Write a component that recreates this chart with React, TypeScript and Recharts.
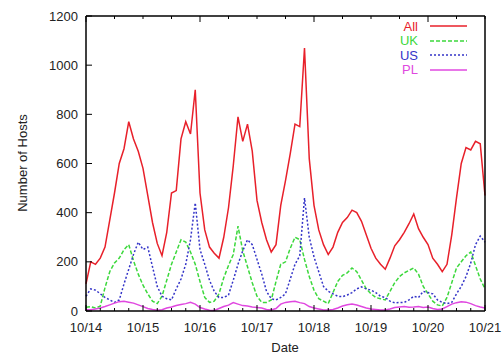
import React from "react";
import { LineChart, Line, XAxis, YAxis } from "recharts";

// two-hour samples, 10/14 00:00 -> 10/21 00:00
const HOURS = Array.from({ length: 85 }, (_, i) => i * 2);
const DATES = ["10/14", "10/15", "10/16", "10/17", "10/18", "10/19", "10/20", "10/21"];
const Y_TICKS = [0, 200, 400, 600, 800, 1000, 1200];

const ALL = [
  110, 200, 190, 215, 260, 370, 480, 600, 660, 770, 700, 650, 580,
  470, 360, 275, 225, 320, 480, 490, 700, 770, 720, 900, 480,
  330, 260, 235, 215, 300, 420, 590, 790, 690, 760, 650, 450,
  360, 290, 240, 270, 430, 530, 640, 760, 750, 1070, 620, 430,
  330, 270, 230, 260, 320, 360, 380, 410, 400, 365, 310, 255,
  215, 190, 170, 215, 265, 290, 320, 355, 395, 335, 300, 270,
  215, 190, 160, 190, 310, 460, 600, 665, 655, 690, 680, 470,
];
const UK = [
  15, 18, 12, 20, 95, 160, 195, 215, 250, 270, 205, 150, 105,
  70, 40, 30, 60, 125, 190, 240, 290, 280, 240, 190, 120,
  55, 35, 40, 70, 135, 185, 230, 345, 245, 180, 115, 60,
  35, 35, 45, 120, 190, 200, 255, 300, 290, 210, 140, 85,
  50, 40, 30, 75, 120, 145, 155, 175, 160, 125, 90, 70,
  55, 50, 45, 80, 115, 140, 155, 165, 175, 150, 100, 70,
  40, 25, 20, 55, 115, 175, 200, 225, 240, 185, 130, 90,
];
const US = [
  60, 90, 85, 70, 55, 45, 35, 45, 110, 170, 230, 280, 250,
  260, 180, 100, 60, 50, 45, 90, 130, 190, 290, 440, 250,
  190, 125, 80, 55, 55, 65, 125, 190, 245, 290, 270, 210,
  150, 80, 50, 45, 55, 70, 130, 190, 225, 460, 300, 220,
  160, 100, 80, 70, 60, 58, 65, 75, 90, 98, 90, 85,
  75, 60, 55, 40, 33, 35, 35, 45, 60, 55, 80, 75,
  70, 45, 35, 30, 35, 70, 100, 140, 195, 270, 305, 280,
];
const PL = [
  5, 5, 8, 12, 18, 25, 32, 38, 40, 36, 32, 25, 18,
  10, 6, 3, 5, 12, 16, 22, 26, 30, 35, 28, 14,
  8, 3, 2, 10, 18, 24, 34, 28, 22, 20, 16, 14,
  12, 6, 4, 10, 28, 35, 38, 40, 34, 30, 18, 12,
  8, 4, 4, 6, 12, 20, 25, 28, 24, 18, 12, 8,
  6, 4, 4, 8, 14, 16, 18, 15, 16, 18, 14, 16,
  10, 6, 8, 18, 28, 34, 38, 36, 30, 22, 16, 12,
];

const data = HOURS.map((h, i) => ({ h, all: ALL[i], uk: UK[i], us: US[i], pl: PL[i] }));

const series = [
  { key: "all", name: "All", color: "#e8202a", dash: undefined },
  { key: "uk", name: "UK", color: "#3cd83c", dash: "4 2" },
  { key: "us", name: "US", color: "#3434c8", dash: "2 2" },
  { key: "pl", name: "PL", color: "#e048e0", dash: undefined },
];

const QUARTER_TICKS = Array.from({ length: 29 }, (_, i) => i * 6);
const FONT = "'Liberation Sans', Arial, sans-serif";
const TEXT = "#222";

// gnuplot style: ticks point into the plot, labels outside
const BottomTick = (p: any) => {
  const v = p.payload.value;
  const major = v % 24 === 0;
  return (
    <g>
      <line x1={p.x} y1={p.y} x2={p.x} y2={p.y - (major ? 6 : 3)} stroke="#000" />
      {major && (
        <text x={p.x} y={p.y + 21} textAnchor="middle" fontSize={13} fontFamily={FONT} fill={TEXT}>
          {DATES[v / 24]}
        </text>
      )}
    </g>
  );
};
const TopTick = (p: any) => {
  const major = p.payload.value % 24 === 0;
  return <line x1={p.x} y1={p.y} x2={p.x} y2={p.y + (major ? 6 : 3)} stroke="#000" />;
};
const LeftTick = (p: any) => (
  <g>
    <line x1={p.x} y1={p.y} x2={p.x + 6} y2={p.y} stroke="#000" />
    <text x={p.x - 8} y={p.y + 4.5} textAnchor="end" fontSize={13} fontFamily={FONT} fill={TEXT}>
      {p.payload.value}
    </text>
  </g>
);
const RightTick = (p: any) => <line x1={p.x} y1={p.y} x2={p.x - 6} y2={p.y} stroke="#000" />;

function LegendBox() {
  return (
    <div
      style={{
        position: "absolute", left: 380, top: 19, width: 100,
        fontFamily: FONT, fontSize: 13, lineHeight: "13px",
      }}
    >
      {series.map((s) => (
        <div key={s.key} style={{ display: "flex", alignItems: "center", height: 14.5 }}>
          <span style={{ width: 38, textAlign: "right", color: s.color }}>{s.name}</span>
          <svg width={50} height={8} style={{ marginLeft: 12 }}>
            <line x1={0} y1={4} x2={37} y2={4} stroke={s.color} strokeWidth={1.4} strokeDasharray={s.dash} />
          </svg>
        </div>
      ))}
    </div>
  );
}

export default function App() {
  const frame = { stroke: "#000", strokeWidth: 1.5 };
  return (
    <div style={{ position: "absolute", left: 0, top: 0, width: 503, height: 356, background: "#fff" }}>
      <LineChart width={503} height={356} data={data} margin={{ top: 15, right: 17, left: 85, bottom: 44 }}>
        <XAxis
          xAxisId="x"
          dataKey="h"
          type="number"
          domain={[0, 168]}
          ticks={QUARTER_TICKS}
          interval={0}
          height={1}
          tickSize={0}
          tickMargin={0}
          tickLine={false}
          axisLine={frame}
          tick={BottomTick}
        />
        <XAxis
          xAxisId="top"
          orientation="top"
          type="number"
          domain={[0, 168]}
          ticks={QUARTER_TICKS}
          interval={0}
          height={1}
          tickSize={0}
          tickMargin={0}
          tickLine={false}
          axisLine={frame}
          tick={TopTick}
        />
        <YAxis
          yAxisId="y"
          type="number"
          domain={[0, 1200]}
          ticks={Y_TICKS}
          interval={0}
          width={1}
          tickSize={0}
          tickMargin={0}
          tickLine={false}
          axisLine={frame}
          tick={LeftTick}
        />
        <YAxis
          yAxisId="right"
          orientation="right"
          type="number"
          domain={[0, 1200]}
          ticks={Y_TICKS}
          interval={0}
          width={1}
          tickSize={0}
          tickMargin={0}
          tickLine={false}
          axisLine={frame}
          tick={RightTick}
        />
        {series.map((s) => (
          <Line
            key={s.key}
            xAxisId="x"
            yAxisId="y"
            type="linear"
            dataKey={s.key}
            name={s.name}
            stroke={s.color}
            strokeWidth={1.5}
            strokeDasharray={s.dash}
            dot={false}
            isAnimationActive={false}
          />
        ))}
      </LineChart>
      <LegendBox />
      <div
        style={{
          position: "absolute", left: 22, top: 163, transform: "translate(-50%, -50%) rotate(-90deg)",
          whiteSpace: "nowrap", fontFamily: FONT, fontSize: 13, color: TEXT,
        }}
      >
        Number of Hosts
      </div>
      <div
        style={{
          position: "absolute", left: 285, top: 347, transform: "translate(-50%, -50%)",
          fontFamily: FONT, fontSize: 13, color: TEXT,
        }}
      >
        Date
      </div>
    </div>
  );
}
